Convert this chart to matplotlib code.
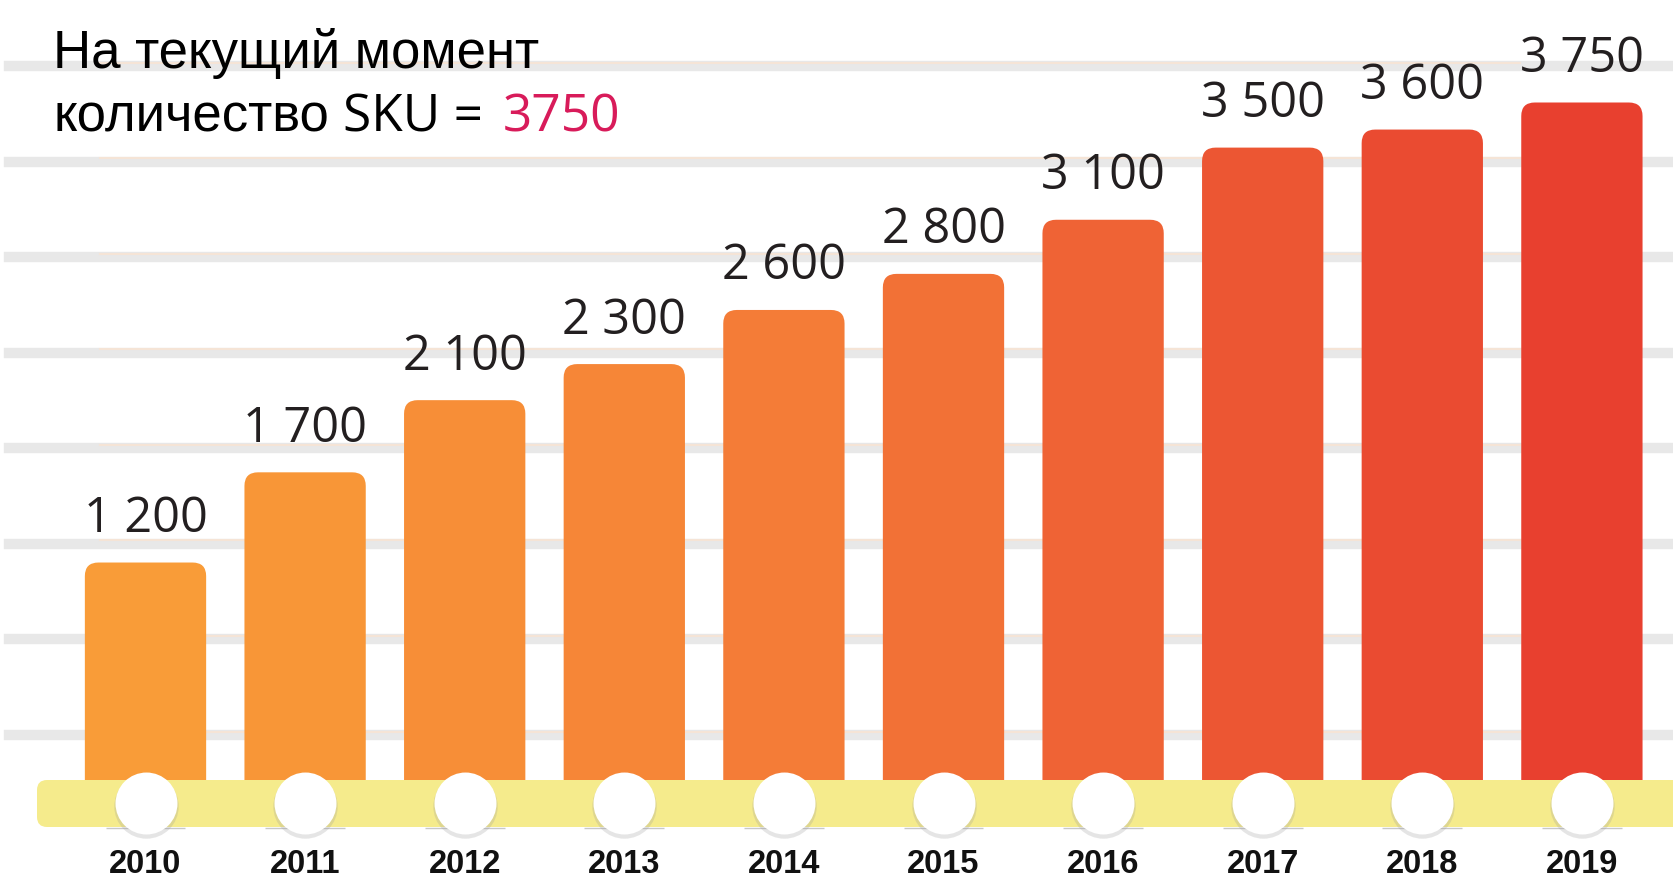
import numpy as np
import matplotlib
matplotlib.use('Agg')
import matplotlib.pyplot as plt
from matplotlib.patches import FancyBboxPatch

years = ['2010', '2011', '2012', '2013', '2014', '2015', '2016', '2017', '2018', '2019']
sku_counts = [1200, 1700, 2100, 2300, 2600, 2800, 3100, 3500, 3600, 3750]
bar_colors = ['#f99c38', '#f89637', '#f78e37', '#f68637', '#f47c37',
              '#f27136', '#ef6335', '#ec5633', '#ea4b31', '#e8402f']
title_line1 = 'На текущий момент'
title_line2 = 'количество'
title_sku = 'SKU ='
title_value = '3750'

W, H, DPI = 1673, 882, 100
base_px = 779        # pixel row of value 0 (from the top)
px_per_unit = 0.1804
step_px = 159.6
first_px = 145.5


def px_to_y(px):
    return (base_px - px) / px_per_unit


fig = plt.figure(figsize=(W / DPI, H / DPI), dpi=DPI)
ax = fig.add_axes([0, 0, 1, 1])
ax.axis('off')
ax.set_xlim(-first_px / step_px, (W - first_px) / step_px)
ax.set_ylim(px_to_y(H), px_to_y(0))

# background stripes
for gy in np.linspace(px_to_y(735), px_to_y(66), 8):
    ax.axhline(gy, xmin=9 / W, xmax=1, color='#e8e8e8', lw=7.5, zorder=1)
    ax.axhline(gy + 3.5 / px_per_unit, xmin=100 / W, xmax=1520 / W,
               color='#fbe3cf', lw=1.5, alpha=0.7, zorder=1)

x = np.arange(len(years))
bars = ax.bar(x, sku_counts, width=0.76, color=bar_colors, zorder=2)
ext = 25 / px_per_unit
aspect = (1 / px_per_unit) / (1 / step_px)
for rect, c in zip(bars, bar_colors):
    rect.set_visible(False)
    rx, ry = rect.get_x(), rect.get_y()
    rw, rh = rect.get_width(), rect.get_height()
    ax.add_patch(FancyBboxPatch((rx, ry - ext), rw, rh + ext,
                                boxstyle='round,pad=0,rounding_size=0.085',
                                mutation_aspect=aspect, fc=c, ec='none', zorder=2))

for xi, v in zip(x, sku_counts):
    ax.annotate(f'{v:,}'.replace(',', ' '), (xi, v), xytext=(0, 22),
                textcoords='offset points', ha='center', va='baseline',
                fontsize=35, family='Open Sans', color='#231f20', zorder=6)

# yellow timeline band
band = FancyBboxPatch((37 / DPI, (H - 827) / DPI), (W + 40 - 37) / DPI, 47 / DPI,
                      boxstyle='round,pad=0,rounding_size=0.1',
                      transform=fig.dpi_scale_trans, fc='#f5eb8c', ec='none',
                      zorder=3, clip_on=False)
ax.add_patch(band)

cy = px_to_y(803)
ax.hlines(np.full(len(x), px_to_y(828)), x - 0.25, x + 0.25, color='#c8c8c8', lw=1, zorder=4)
ax.scatter(x, np.full(len(x), cy - 3 / px_per_unit), s=2150, color='#9a9a9a',
           alpha=0.25, lw=0, zorder=4)
ax.scatter(x, np.full(len(x), cy), s=1990, color='white', lw=0, zorder=5)

for xi, yr in zip(x, years):
    ax.text(xi, px_to_y(873), yr, ha='center', va='baseline', fontsize=23.5,
            fontweight='bold', family='Liberation Sans', color='#111111', zorder=6)

# title
tx = 53 / W
fig.text(tx, 1 - 68 / H, title_line1, fontsize=38, family='Liberation Sans',
         color='black', va='baseline')
t2 = fig.text(tx, 1 - 131 / H, title_line2, fontsize=38, family='Liberation Sans',
              color='black', va='baseline')
fig.canvas.draw()
r = fig.canvas.get_renderer()
x1 = t2.get_window_extent(r).x1
t3 = fig.text((x1 + 14) / W, 1 - 131 / H, title_sku, fontsize=37, family='Open Sans',
              color='black', va='baseline')
fig.canvas.draw()
x2 = t3.get_window_extent(r).x1
fig.text((x2 + 20) / W, 1 - 131 / H, title_value, fontsize=37, family='Open Sans',
         color='#d81b5a', va='baseline')

plt.savefig('out.png', dpi=DPI)
